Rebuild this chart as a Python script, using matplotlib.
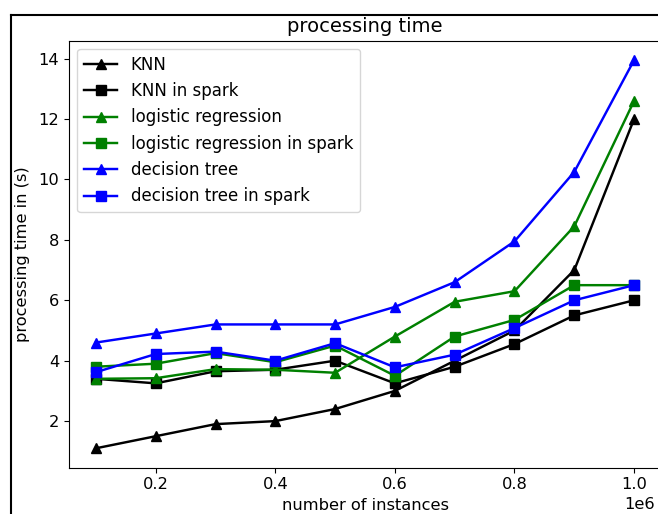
import numpy as np
import matplotlib
matplotlib.use('Agg')
import matplotlib.pyplot as plt
from matplotlib.lines import Line2D

# number of instances
instances = [100000, 200000, 300000, 400000, 500000, 600000, 700000, 800000, 900000, 1000000]

knn = [1.1, 1.5, 1.9, 2.0, 2.4, 3.0, 4.0, 5.0, 7.0, 12.0]
knn_spark = [3.4, 3.25, 3.65, 3.7, 4.0, 3.25, 3.8, 4.55, 5.5, 6.0]
logreg = [3.4, 3.42, 3.72, 3.7, 3.6, 4.8, 5.95, 6.3, 8.45, 12.6]
logreg_spark = [3.8, 3.9, 4.25, 3.95, 4.5, 3.5, 4.8, 5.35, 6.5, 6.5]
dtree = [4.6, 4.9, 5.2, 5.2, 5.2, 5.78, 6.6, 7.95, 10.25, 13.95]
dtree_spark = [3.62, 4.22, 4.3, 4.0, 4.58, 3.78, 4.2, 5.08, 6.0, 6.5]

labels = ['KNN', 'KNN in spark', 'logistic regression', 'logistic regression in spark',
          'decision tree', 'decision tree in spark']

fig = plt.figure(figsize=(6.58, 5.14), dpi=100)
ax = fig.add_axes([69 / 658, (514 - 467.7) / 514, 592 / 658, (467.7 - 40.7) / 514])

lw = 1.75
ms = 7.5
ax.plot(instances, knn, color='black', marker='^', lw=lw, ms=ms, label=labels[0])
ax.plot(instances, knn_spark, color='black', marker='s', lw=lw, ms=ms, label=labels[1])
ax.plot(instances, logreg, color='green', marker='^', lw=lw, ms=ms, label=labels[2])
ax.plot(instances, logreg_spark, color='green', marker='s', lw=lw, ms=ms, label=labels[3])
ax.plot(instances, dtree, color='blue', marker='^', lw=lw, ms=ms, label=labels[4])
ax.plot(instances, dtree_spark, color='blue', marker='s', lw=lw, ms=ms, label=labels[5])

fs = 11.7
ax.set_title('processing time', fontsize=14)
ax.set_xlabel('number of instances', fontsize=fs)
ax.set_ylabel('processing time in (s)', fontsize=fs, labelpad=6)
ax.tick_params(labelsize=fs)
offset = ax.xaxis.get_offset_text()
offset.set_fontsize(fs)
offset.set_x(0.99)
ax.legend(loc='upper left', fontsize=12)

# screenshot frame
fig.add_artist(Line2D([11 / 658, 11 / 658], [-0.1, 1 - 15 / 514], color='black', lw=1.5,
                      transform=fig.transFigure))
fig.add_artist(Line2D([11 / 658, 1.1], [1 - 15 / 514, 1 - 15 / 514], color='black', lw=1.5,
                      transform=fig.transFigure))

fig.savefig('out.png', dpi=100)
